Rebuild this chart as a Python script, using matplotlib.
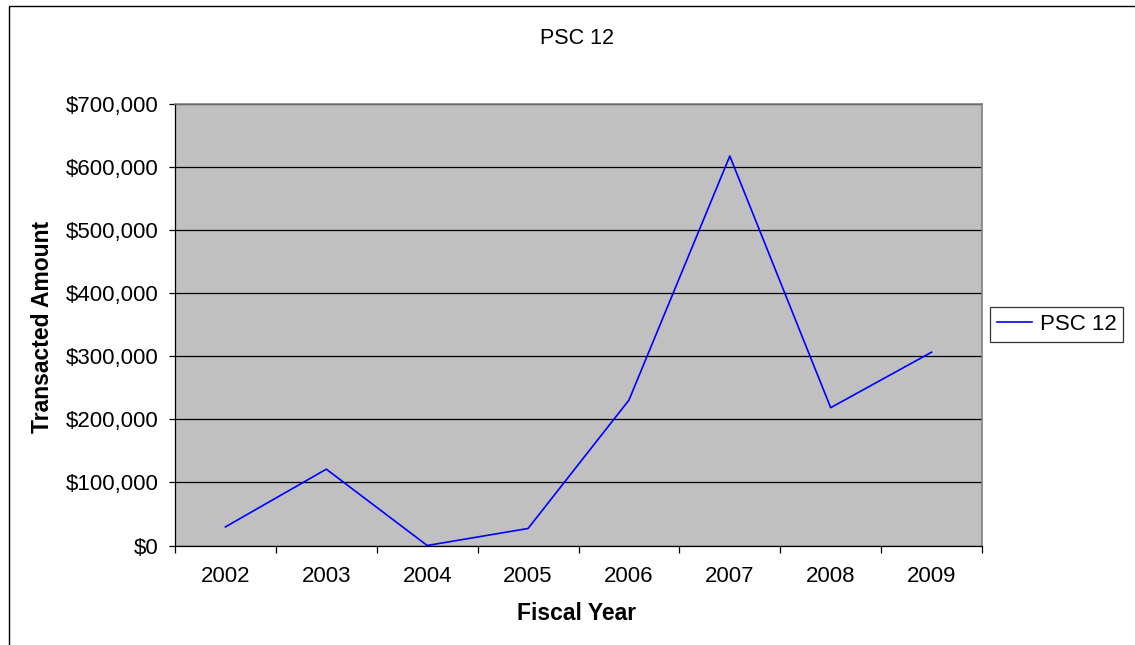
import matplotlib
matplotlib.use("Agg")
import matplotlib.pyplot as plt
from matplotlib.ticker import StrMethodFormatter, FixedLocator
from matplotlib.patches import Rectangle

years = ["2002", "2003", "2004", "2005", "2006", "2007", "2008", "2009"]
amounts = [29500, 121000, 0, 27000, 230500, 617500, 218500, 306500]

plt.rcParams['font.family'] = ['Liberation Sans', 'DejaVu Sans']

fig = plt.figure(figsize=(11.35, 6.45), dpi=100)
ax = fig.add_axes([175 / 1135, 1 - 545.5 / 645, (982 - 175) / 1135, (545.5 - 104) / 645])
ax.set_facecolor("#C0C0C0")

x = list(range(len(years)))
ax.plot(x, amounts, color="#0000FF", lw=1.2, label="PSC 12")

ax.set_xlim(-0.5, len(years) - 0.5)
ax.set_ylim(0, 700000)
ax.set_yticks(range(0, 700001, 100000))
ax.yaxis.set_major_formatter(StrMethodFormatter("${x:,.0f}"))
ax.yaxis.grid(True, color="black", lw=0.9)
ax.set_axisbelow(True)

ax.set_xticks(x)
ax.set_xticklabels(years)
ax.xaxis.set_minor_locator(FixedLocator([i - 0.5 for i in range(len(years) + 1)]))
ax.tick_params(axis="x", which="major", length=0, pad=15, labelsize=16)
ax.tick_params(axis="x", which="minor", length=5, width=0.9, color="black")
ax.tick_params(axis="y", length=4.3, width=0.9, pad=7.5, labelsize=16, color="black")

for side in ["top", "right"]:
    ax.spines[side].set_color("#808080")
    ax.spines[side].set_linewidth(1.2)
for side in ["left", "bottom"]:
    ax.spines[side].set_color("black")
    ax.spines[side].set_linewidth(0.9)

fig.text(577 / 1135, 1 - 38 / 645, "PSC 12", ha="center", va="center", fontsize=15.5)
fig.text(577 / 1135, 1 - 614 / 645, "Fiscal Year", ha="center", va="center",
         fontsize=16.5, fontweight="bold")
fig.text(43 / 1135, 1 - 327 / 645, "Transacted Amount", ha="center", va="center",
         rotation=90, fontsize=16.5, fontweight="bold")

leg = fig.legend(loc="center left", bbox_to_anchor=(990 / 1135, 1 - 324.5 / 645),
                 frameon=True, fancybox=False, fontsize=16, handlelength=1.6,
                 handletextpad=0.35, borderpad=0.3, borderaxespad=0)
leg.get_frame().set_edgecolor("black")
leg.get_frame().set_linewidth(0.9)

fig.patches.append(Rectangle((8.5 / 1135, -0.1), 1.2, 1.1 - 6 / 645,
                             transform=fig.transFigure, fill=False,
                             edgecolor="black", lw=1.0))

fig.savefig("out.png", dpi=100)
